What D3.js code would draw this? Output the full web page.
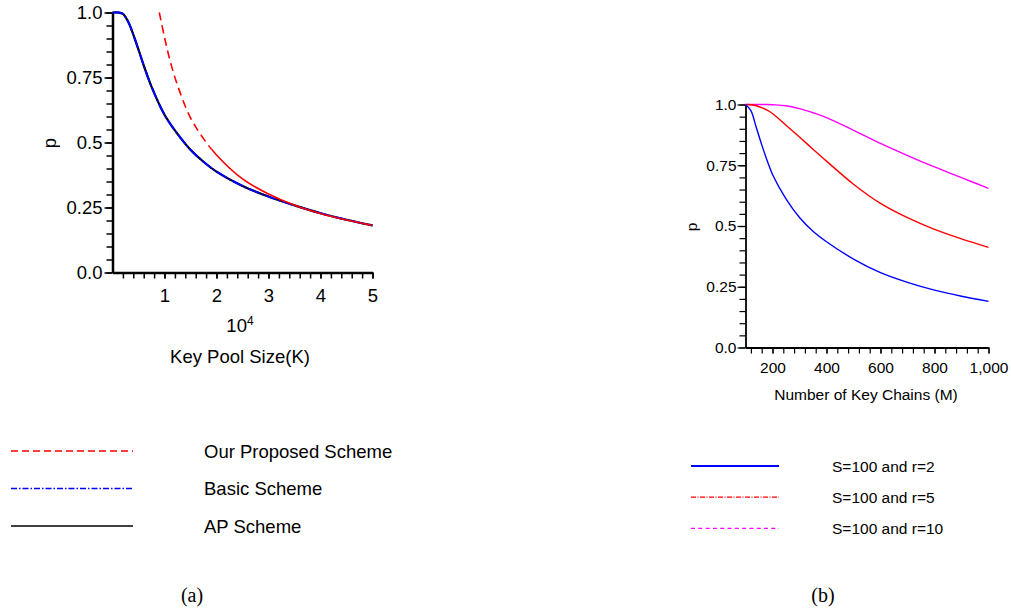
<!DOCTYPE html>
<html>
<head>
<meta charset="utf-8">
<script src="https://cdn.jsdelivr.net/npm/d3@7"></script>
<style>
  body { margin: 0; background: #fff; }
  svg { display: block; font-family: "Liberation Sans", Arial, sans-serif; }
</style>
</head>
<body>
<div id="chart"></div>
<script>
// ---- data (a): probability vs key pool size (x in 10^4) ----
var poolSize   = [0, 0.1, 0.2, 0.3, 0.4, 0.5, 0.6, 0.75, 1, 1.25, 1.5, 1.75, 2, 2.5, 3, 3.5, 4, 4.5, 5];
var basicP     = [1, 1, 0.995, 0.965, 0.915, 0.857, 0.797, 0.715, 0.607, 0.533, 0.472, 0.426, 0.388, 0.333, 0.292, 0.258, 0.228, 0.203, 0.181];
var apP        = [1, 1, 0.995, 0.965, 0.915, 0.857, 0.797, 0.715, 0.607, 0.533, 0.472, 0.426, 0.388, 0.333, 0.292, 0.258, 0.228, 0.203, 0.181];
var proposedX  = [0.9, 1, 1.1, 1.25, 1.5, 1.75, 2, 2.5, 3, 3.5, 4, 4.5, 5];
var proposedP  = [1.0, 0.905, 0.82, 0.72, 0.595, 0.515, 0.452, 0.36, 0.302, 0.259, 0.227, 0.202, 0.181];
var proposedDashEnd = 1.9;   // dashes vanish past here in the original
var poolTicks  = [1, 2, 3, 4, 5];
var pTicks     = [0, 0.25, 0.5, 0.75, 1];
var pTickLabels = ["0.0", "0.25", "0.5", "0.75", "1.0"];
var legendA    = ["Our Proposed Scheme", "Basic Scheme", "AP Scheme"];

// ---- data (b): probability vs number of key chains ----
var chains = [100, 120, 140, 160, 180, 200, 250, 300, 350, 400, 500, 600, 700, 800, 900, 1000];
var r2P    = [1, 0.975, 0.905, 0.835, 0.77, 0.712, 0.612, 0.535, 0.478, 0.435, 0.364, 0.308, 0.268, 0.236, 0.211, 0.19];
var r5P    = [1, 0.999, 0.995, 0.987, 0.977, 0.963, 0.915, 0.866, 0.816, 0.767, 0.672, 0.593, 0.534, 0.486, 0.447, 0.412];
var r10P   = [1, 1, 1, 1, 1, 0.999, 0.995, 0.983, 0.966, 0.946, 0.894, 0.84, 0.79, 0.743, 0.699, 0.655];
var chainTicks = [200, 400, 600, 800, 1000];
var chainTickLabels = ["200", "400", "600", "800", "1,000"];
var legendB = ["S=100 and r=2", "S=100 and r=5", "S=100 and r=10"];

var width = 1011, height = 610;
var svg = d3.select("#chart").append("svg")
  .attr("width", width).attr("height", height);

function pairs(xs, ys) { return xs.map(function(x, i) { return [x, ys[i]]; }); }

/* ---------- chart (a) ---------- */
var xA = d3.scaleLinear().domain([0, 5]).range([112.5, 372.5]);
var yA = d3.scaleLinear().domain([0, 1]).range([272.5, 12.5]);
var lineA = d3.line().x(function(d){ return xA(d[0]); }).y(function(d){ return yA(d[1]); })
  .curve(d3.curveCatmullRom.alpha(0.5));

var gA = svg.append("g");

// minor ticks
gA.append("g").attr("transform", "translate(112.5,0)")
  .call(d3.axisLeft(yA).tickValues(d3.range(0, 1.0001, 0.05)).tickFormat("").tickSize(6).tickSizeOuter(0))
  .call(function(g){ g.select(".domain").remove(); g.selectAll("line").attr("stroke-width", 1.5); });
gA.append("g").attr("transform", "translate(0,272.5)")
  .call(d3.axisBottom(xA).tickValues(d3.range(0.2, 5.0001, 0.2)).tickFormat("").tickSize(6).tickSizeOuter(0))
  .call(function(g){ g.select(".domain").remove(); g.selectAll("line").attr("stroke-width", 1.5); });

// major axes
var axA_y = gA.append("g").attr("transform", "translate(112.5,0)")
  .call(d3.axisLeft(yA).tickValues(pTicks).tickFormat(function(d, i){ return pTickLabels[i]; })
    .tickSize(8).tickSizeOuter(0).tickPadding(2));
var axA_x = gA.append("g").attr("transform", "translate(0,272.5)")
  .call(d3.axisBottom(xA).tickValues(poolTicks).tickFormat(d3.format("d"))
    .tickSize(6).tickSizeOuter(0).tickPadding(10));
[axA_y, axA_x].forEach(function(a){
  a.attr("font-family", null).attr("font-size", 18.5);
  a.select(".domain").attr("stroke-width", 2.5);
  a.selectAll("line").attr("stroke-width", 1.5);
  a.selectAll("text").attr("fill", "#000");
});

// clip regions for the proposed-scheme curve: dashed part, then solid part
var defs = svg.append("defs");
defs.append("clipPath").attr("id", "clipDash").append("rect")
  .attr("x", 0).attr("y", 0).attr("width", xA(proposedDashEnd)).attr("height", 300);
defs.append("clipPath").attr("id", "clipSolid").append("rect")
  .attr("x", xA(proposedDashEnd)).attr("y", 0).attr("width", 400).attr("height", 300);

// curves
gA.append("path").datum(pairs(poolSize, apP)).attr("d", lineA)
  .attr("fill", "none").attr("stroke", "#000").attr("stroke-width", 2.2);
gA.append("path").datum(pairs(poolSize, basicP)).attr("d", lineA)
  .attr("fill", "none").attr("stroke", "#0000ff").attr("stroke-width", 2)
  .attr("stroke-dasharray", "12,2,2,2");
var propPts = pairs(proposedX, proposedP);
gA.append("path").datum(propPts).attr("d", lineA).attr("clip-path", "url(#clipDash)")
  .attr("fill", "none").attr("stroke", "#ff0000").attr("stroke-width", 1.6)
  .attr("stroke-dasharray", "8,5");
gA.append("path").datum(propPts).attr("d", lineA).attr("clip-path", "url(#clipSolid)")
  .attr("fill", "none").attr("stroke", "#ff0000").attr("stroke-width", 1.6);

// labels
gA.append("text").attr("transform", "translate(56,143) rotate(-90)")
  .attr("text-anchor", "middle").attr("font-size", 18.5).text("p");
var pow = gA.append("text").attr("x", 240).attr("y", 332).attr("text-anchor", "middle").attr("font-size", 18.5);
pow.append("tspan").text("10");
pow.append("tspan").attr("font-size", 12).attr("dy", -7).text("4");
gA.append("text").attr("x", 240).attr("y", 363).attr("text-anchor", "middle")
  .attr("font-size", 18.5).text("Key Pool Size(K)");

// legend (a)
var legA = [
  {stroke: "#ff0000", dash: "7,4"},
  {stroke: "#0000ff", dash: "6,2,1.5,2"},
  {stroke: "#000", dash: null}
];
legA.forEach(function(s, i) {
  var y = 451 + i * 37.5;
  gA.append("line").attr("x1", 11).attr("x2", 133).attr("y1", y).attr("y2", y)
    .attr("stroke", s.stroke).attr("stroke-width", 1.5).attr("stroke-dasharray", s.dash);
  gA.append("text").attr("x", 204).attr("y", y + 6.5).attr("font-size", 18.5).text(legendA[i]);
});

/* ---------- chart (b) ---------- */
var xB = d3.scaleLinear().domain([100, 1000]).range([745.5, 988.5]);
var yB = d3.scaleLinear().domain([0, 1]).range([347.5, 104.5]);
var lineB = d3.line().x(function(d){ return xB(d[0]); }).y(function(d){ return yB(d[1]); })
  .curve(d3.curveCatmullRom.alpha(0.5));
var gB = svg.append("g");

gB.append("g").attr("transform", "translate(745.5,0)")
  .call(d3.axisLeft(yB).tickValues(d3.range(0, 1.0001, 0.05)).tickFormat("").tickSize(6).tickSizeOuter(0))
  .call(function(g){ g.select(".domain").remove(); g.selectAll("line").attr("stroke-width", 1.2); });
gB.append("g").attr("transform", "translate(0,347.5)")
  .call(d3.axisBottom(xB).tickValues(d3.range(120, 1000.1, 40)).tickFormat("").tickSize(6).tickSizeOuter(0))
  .call(function(g){ g.select(".domain").remove(); g.selectAll("line").attr("stroke-width", 1.2); });

var axB_y = gB.append("g").attr("transform", "translate(745.5,0)")
  .call(d3.axisLeft(yB).tickValues(pTicks).tickFormat(function(d, i){ return pTickLabels[i]; })
    .tickSize(8).tickSizeOuter(0).tickPadding(1));
var axB_x = gB.append("g").attr("transform", "translate(0,347.5)")
  .call(d3.axisBottom(xB).tickValues(chainTicks).tickFormat(function(d, i){ return chainTickLabels[i]; })
    .tickSize(6).tickSizeOuter(0).tickPadding(8));
[axB_y, axB_x].forEach(function(a){
  a.attr("font-family", null).attr("font-size", 15.5);
  a.select(".domain").attr("stroke-width", 1.8);
  a.selectAll("line").attr("stroke-width", 1.2);
  a.selectAll("text").attr("fill", "#000");
});

var seriesB = [
  {vals: r10P, stroke: "#ff00ff", dash: "4,3.3"},
  {vals: r5P,  stroke: "#ff0000", dash: "5,1.5,1,1.5"},
  {vals: r2P,  stroke: "#0000ff", dash: null}
];
seriesB.forEach(function(s) {
  gB.append("path").datum(pairs(chains, s.vals)).attr("d", lineB)
    .attr("fill", "none").attr("stroke", s.stroke).attr("stroke-width", 1.4);
});

gB.append("text").attr("transform", "translate(697,227) rotate(-90)")
  .attr("text-anchor", "middle").attr("font-size", 15.5).text("p");
gB.append("text").attr("x", 866).attr("y", 400).attr("text-anchor", "middle")
  .attr("font-size", 15.5).text("Number of Key Chains (M)");

// legend (b), listed r=2, r=5, r=10 top to bottom
seriesB.slice().reverse().forEach(function(s, i) {
  var y = 466 + i * 31.2;
  gB.append("line").attr("x1", 691).attr("x2", 779).attr("y1", y).attr("y2", y)
    .attr("stroke", s.stroke).attr("stroke-width", i === 0 ? 1.8 : 1.3).attr("stroke-dasharray", s.dash);
  gB.append("text").attr("x", 832).attr("y", y + 5.5).attr("font-size", 15.5).text(legendB[i]);
});

/* ---------- captions ---------- */
svg.append("text").attr("x", 192).attr("y", 602).attr("text-anchor", "middle")
  .attr("font-family", "'Liberation Serif', 'DejaVu Serif', serif").attr("font-size", 20).text("(a)");
svg.append("text").attr("x", 823).attr("y", 602).attr("text-anchor", "middle")
  .attr("font-family", "'Liberation Serif', 'DejaVu Serif', serif").attr("font-size", 20).text("(b)");
</script>
</body>
</html>
